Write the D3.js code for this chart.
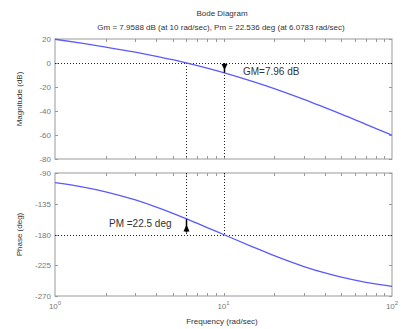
<!DOCTYPE html>
<html>
<head>
<meta charset="utf-8">
<script src="https://cdn.jsdelivr.net/npm/d3@7"></script>
<style>
  body { margin: 0; background: #fff; }
  svg { display: block; font-family: "Liberation Sans", Arial, sans-serif; }
  .tick-label { fill: #777; font-size: 8px; }
  .axis-label { fill: #333; font-size: 8px; }
</style>
</head>
<body>
<svg id="chart" width="401" height="329"></svg>
<script>
// values
const freqs = [1, 1.5, 2, 3, 4, 5, 6, 7, 8, 10, 15, 20, 30, 40, 50, 70, 100];
const magnitudeDb = [19.8, 16.1, 13.3, 9.0, 5.6, 2.75, 0.2, -2.1, -4.2, -7.96, -15.5, -21.3, -30.3, -37.2, -42.6, -51.1, -60.2];
const phaseDeg = [-104.2, -111.0, -117.5, -129.5, -140.0, -149.0, -156.9, -163.8, -169.8, -180, -198.4, -211.0, -226.9, -236.3, -242.5, -250.0, -255.8];
const magTicks = [20, 0, -20, -40, -60, -80];
const phaseTicks = [-90, -135, -180, -225, -270];
const decadeTicks = [1, 10, 100];

const gainMargin = { freq: 10, value: 7.96, label: "GM=7.96 dB" };
const phaseMargin = { freq: 6.0783, value: 22.5, label: "PM =22.5 deg" };

const svg = d3.select("#chart");
const left = 55, right = 392;

const x = d3.scaleLog().domain([1, 100]).range([left, right]);
const yMag = d3.scaleLinear().domain([-80, 20]).range([159, 39]);
const yPh = d3.scaleLinear().domain([-270, -90]).range([296, 173]);

const minorTicks = [];
[1, 10].forEach((dec) => {
  for (let k = 2; k <= 9; k++) minorTicks.push(dec * k);
});

svg.append("text")
  .attr("class", "axis-label")
  .attr("x", 222).attr("y", 16)
  .attr("text-anchor", "middle")
  .attr("font-size", "7.5px")
  .text("Bode Diagram");

svg.append("text")
  .attr("class", "axis-label")
  .attr("x", 221).attr("y", 30)
  .attr("text-anchor", "middle")
  .attr("font-size", "8.2px")
  .text("Gm = 7.9588 dB (at 10 rad/sec),  Pm = 22.536 deg (at 6.0783 rad/sec)");

function drawPanel(yScale, ticks, label) {
  const [yBottom, yTop] = yScale.range();
  const g = svg.append("g");

  g.append("rect")
    .attr("x", left).attr("y", yTop)
    .attr("width", right - left).attr("height", yBottom - yTop)
    .attr("fill", "#fff")
    .attr("stroke", "#999")
    .attr("stroke-width", 1);

  // minor + major frequency ticks, top and bottom, pointing inward
  minorTicks.concat([10]).forEach((f) => {
    const xp = Math.round(x(f)) + 0.5;
    g.append("line").attr("x1", xp).attr("x2", xp)
      .attr("y1", yTop).attr("y2", yTop + 3).attr("stroke", "#999");
    g.append("line").attr("x1", xp).attr("x2", xp)
      .attr("y1", yBottom).attr("y2", yBottom - 3).attr("stroke", "#999");
  });

  ticks.forEach((t) => {
    const yp = Math.round(yScale(t)) + 0.5;
    g.append("line").attr("x1", left).attr("x2", left + 3)
      .attr("y1", yp).attr("y2", yp).attr("stroke", "#999");
    g.append("line").attr("x1", right).attr("x2", right - 3)
      .attr("y1", yp).attr("y2", yp).attr("stroke", "#999");
    g.append("text")
      .attr("class", "tick-label")
      .attr("x", left - 4).attr("y", yScale(t) + 3)
      .attr("text-anchor", "end")
      .text(t);
  });

  g.append("text")
    .attr("class", "axis-label")
    .attr("transform", `translate(22, ${(yTop + yBottom) / 2}) rotate(-90)`)
    .attr("text-anchor", "middle")
    .text(label);

  return g;
}

drawPanel(yMag, magTicks, "Magnitude (dB)");
drawPanel(yPh, phaseTicks, "Phase (deg)");

const dotted = (x1, y1, x2, y2) =>
  svg.append("line")
    .attr("x1", x1).attr("y1", y1).attr("x2", x2).attr("y2", y2)
    .attr("stroke", "#222")
    .attr("stroke-width", 1)
    .attr("stroke-dasharray", "1,2");

const xPm = Math.round(x(phaseMargin.freq)) - 0.5;
const xGm = Math.round(x(gainMargin.freq)) + 0.5;

// reference lines
dotted(left, Math.round(yMag(0)) + 0.5, right, Math.round(yMag(0)) + 0.5);
dotted(xPm, yMag(0), xPm, yMag(-80));
dotted(xGm, yMag(0), xGm, yMag(-80));
dotted(left, Math.round(yPh(-180)) + 0.5, right, Math.round(yPh(-180)) + 0.5);
dotted(xPm, yPh(-90), xPm, yPh(-180));
dotted(xGm, yPh(-90), xGm, yPh(-180));

// curves
const line = (yScale, vals) => d3.line()
  .x((d, i) => x(freqs[i]))
  .y((d) => yScale(d))
  .curve(d3.curveMonotoneX)(vals);

svg.append("path")
  .attr("d", line(yMag, magnitudeDb))
  .attr("fill", "none")
  .attr("stroke", "#5a5aff")
  .attr("stroke-width", 1.3);

svg.append("path")
  .attr("d", line(yPh, phaseDeg))
  .attr("fill", "none")
  .attr("stroke", "#5a5aff")
  .attr("stroke-width", 1.3);

// margin arrows
const gmTop = yMag(0), gmBot = yMag(-gainMargin.value);
svg.append("line")
  .attr("x1", xGm).attr("x2", xGm)
  .attr("y1", gmTop).attr("y2", gmBot)
  .attr("stroke", "#000").attr("stroke-width", 1.5);
svg.append("path")
  .attr("d", `M${xGm - 3},${gmTop + 1} L${xGm + 3},${gmTop + 1} L${xGm},${gmTop + 7} Z`)
  .attr("fill", "#000");

const pmBot = yPh(-180), pmTop = yPh(-180 + phaseMargin.value);
svg.append("line")
  .attr("x1", xPm).attr("x2", xPm)
  .attr("y1", pmTop).attr("y2", pmBot - 2)
  .attr("stroke", "#000").attr("stroke-width", 1.5);
svg.append("path")
  .attr("d", `M${xPm - 3},${pmBot - 3} L${xPm + 3},${pmBot - 3} L${xPm},${pmBot - 10} Z`)
  .attr("fill", "#000");

svg.append("text")
  .attr("x", 243).attr("y", 75)
  .attr("fill", "#333")
  .attr("font-size", "10px")
  .text(gainMargin.label);

svg.append("text")
  .attr("x", 109).attr("y", 227)
  .attr("fill", "#333")
  .attr("font-size", "10px")
  .text(phaseMargin.label);

// frequency axis labels
decadeTicks.forEach((f, i) => {
  const t = svg.append("text")
    .attr("class", "tick-label")
    .attr("x", x(f)).attr("y", 309)
    .attr("text-anchor", "middle");
  t.append("tspan").text("10");
  t.append("tspan").attr("dy", -4).attr("font-size", "6px").text(i);
});

svg.append("text")
  .attr("class", "axis-label")
  .attr("x", 222).attr("y", 324)
  .attr("text-anchor", "middle")
  .text("Frequency (rad/sec)");
</script>
</body>
</html>
